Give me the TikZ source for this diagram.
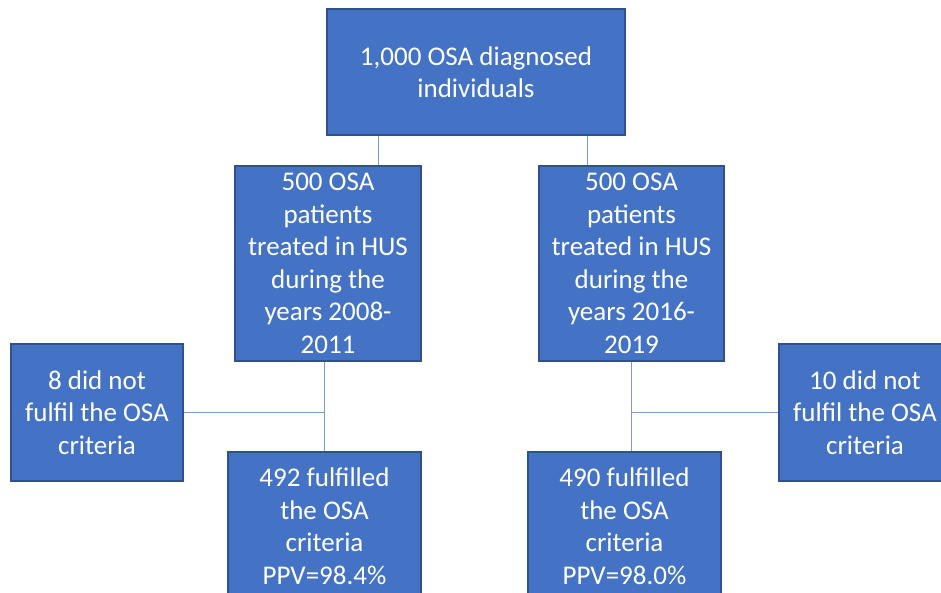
\documentclass[tikz,border=0pt]{standalone}
\usepackage{fontspec}
\setmainfont{Carlito}
\definecolor{boxfill}{HTML}{4472C4}
\definecolor{boxline}{HTML}{2F528F}
\definecolor{conn}{HTML}{7A99D6}
\begin{document}
\begin{tikzpicture}[x=1pt,y=-1pt,
  fbox/.style={rectangle,fill=boxfill,draw=boxline,line width=1.2pt,inner sep=0pt,
    text=white,align=center,font=\fontsize{27}{32.5}\selectfont},
  link/.style={draw=conn,line width=1pt}]
\useasboundingbox (0,0) rectangle (941,592);
\clip (0,0) rectangle (941,592);
\fill[white] (0,0) rectangle (941,592);
\node[fbox,minimum width=298pt,minimum height=126pt] (top) at (476,72) {1,000 OSA diagnosed\\individuals};
\node[fbox,minimum width=186pt,minimum height=195pt] (ml) at (328,263.5) {500 OSA\\patients\\treated in HUS\\during the\\years 2008-\\2011};
\node[fbox,minimum width=185pt,minimum height=195pt] (mr) at (631.5,263.5) {500 OSA\\patients\\treated in HUS\\during the\\years 2016-\\2019};
\node[fbox,minimum width=172pt,minimum height=137pt] (ls) at (97,412.5) {8 did not\\fulfil the OSA\\criteria};
\node[fbox,minimum width=172pt,minimum height=137pt] (rs) at (865,412.5) {10 did not\\fulfil the OSA\\criteria};
\node[fbox,minimum width=193pt,minimum height=148pt] (bl) at (324.5,526) {492 fulfilled\\the OSA\\criteria\\PPV=98.4\%};
\node[fbox,minimum width=193pt,minimum height=148pt] (br) at (624.5,526) {490 fulfilled\\the OSA\\criteria\\PPV=98.0\%};
\coordinate (c1) at (378,150);
\coordinate (c2) at (587,150);
\draw[link] (top.south -| c1) -- (ml.north -| c1);
\draw[link] (top.south -| c2) -- (mr.north -| c2);
\draw[link] (ml.south -| bl.north) -- (bl.north);
\draw[link] (ls.east) -- (ls.east -| bl.north);
\draw[link] (mr.south) -- (br.north -| mr.south);
\draw[link] (rs.west) -- (rs.west -| mr.south);
\end{tikzpicture}
\end{document}
